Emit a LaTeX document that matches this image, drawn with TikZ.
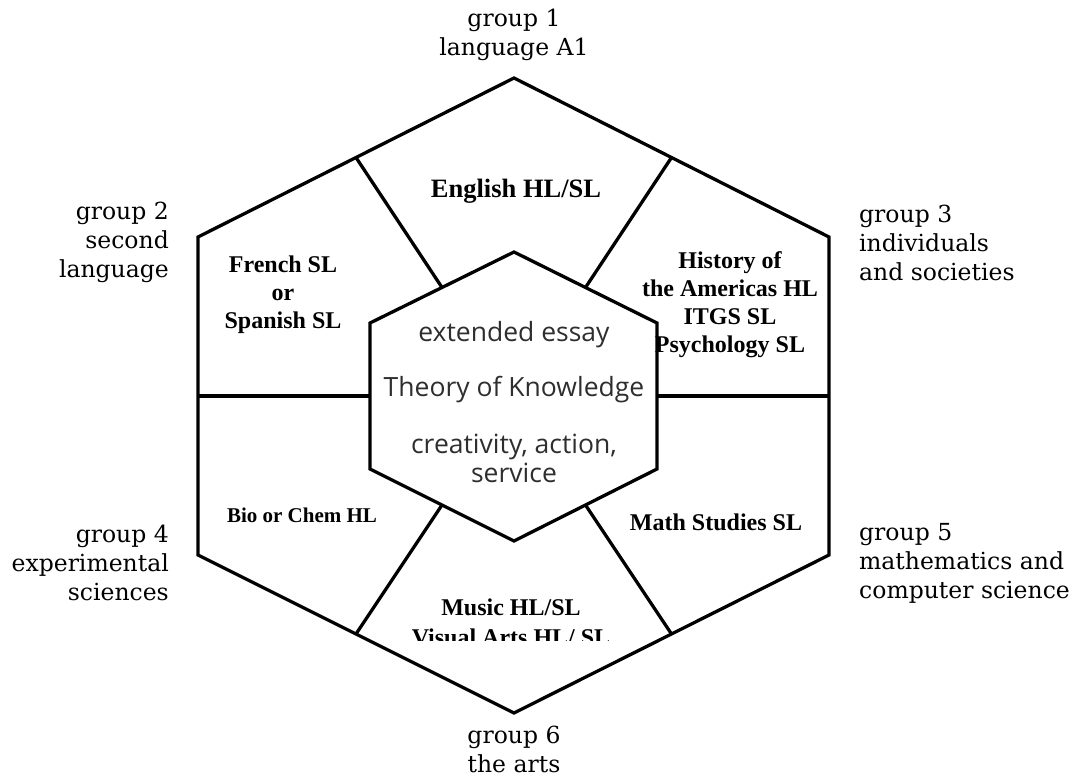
\documentclass[tikz,border=0pt]{standalone}
\usepackage{fontspec}
\setmainfont{Liberation Serif}
\newfontfamily\grpfont{DejaVu Serif}
\newfontfamily\corefont{Open Sans}
\usetikzlibrary{calc}

\begin{document}
\begin{tikzpicture}[x=1pt, y=-1pt,
	hexline/.style={line width=3.3pt, line join=miter},
	grp/.style={font=\grpfont\fontsize{23.5}{29}\selectfont, inner sep=0pt},
	subj/.style={font=\bfseries\fontsize{24}{28}\selectfont, align=center, inner sep=0pt},
	core/.style={font=\corefont\fontsize{26.5}{29}\selectfont, text=black!82, align=center, inner sep=0pt},
	]
	\useasboundingbox (0,0) rectangle (1074,779);

	% outer hexagon
	\coordinate (o0) at (514,78);
	\coordinate (o1) at (829,237);
	\coordinate (o2) at (829,555);
	\coordinate (o3) at (514,713);
	\coordinate (o4) at (198,555);
	\coordinate (o5) at (198,237);
	% inner hexagon
	\coordinate (i0) at (514,252);
	\coordinate (i1) at (657,323);
	\coordinate (i2) at (657,469);
	\coordinate (i3) at (514,541);
	\coordinate (i4) at (370,469);
	\coordinate (i5) at (370,323);

	\draw[hexline] (o0) -- (o1) -- (o2) -- (o3) -- (o4) -- (o5) -- cycle;
	\draw[hexline] (i0) -- (i1) -- (i2) -- (i3) -- (i4) -- (i5) -- cycle;

	\foreach \a/\b in {0/1, 1/2, 2/3, 3/4, 4/5, 5/0}{
		\coordinate (om\a) at ($(o\a)!.5!(o\b)$);
		\coordinate (im\a) at ($(i\a)!.5!(i\b)$);
		\draw[hexline] (om\a) -- (im\a);
	}

	\node[core] (core) at (514,402) {extended essay\\[26pt] Theory of Knowledge\\[28pt] creativity, action,\\ service};

	\node[subj, font=\bfseries\fontsize{26.5}{30}\selectfont] (s1) at (516,191) {English HL/SL};
	\node[subj] (s2) at (283,295) {French SL\\ or\\ Spanish SL};
	\node[subj] (s3) at (730,305) {History of\\ the Americas HL\\ ITGS SL\\ Psychology SL};
	\node[subj, font=\bfseries\fontsize{21}{25}\selectfont] (s4) at (302,515) {Bio or Chem HL};
	\node[subj] (s5) at (716,522) {Math Studies SL};
	\begin{scope}
		\clip (380,580) rectangle (650,640);
		\node[subj, font=\bfseries\fontsize{24}{30}\selectfont] (s6) at (511,622) {Music HL/SL\\ Visual Arts HL/ SL};
	\end{scope}

	\node[grp, align=center] (g1) at (514,35) {group 1\\ language A1};
	\node[grp, align=right, anchor=east] (g2) at (169,242) {group 2\\ second\\ language};
	\node[grp, align=left, anchor=west] (g3) at (859,243) {group 3\\ individuals\\ and societies};
	\node[grp, align=right, anchor=east] (g4) at (169,563) {group 4\\ experimental\\ sciences};
	\node[grp, align=left, anchor=west] (g5) at (859,563) {group 5\\ mathematics and\\ computer science};
	\node[grp, align=center] (g6) at (514,749) {group 6\\ the arts};
\end{tikzpicture}
\end{document}
